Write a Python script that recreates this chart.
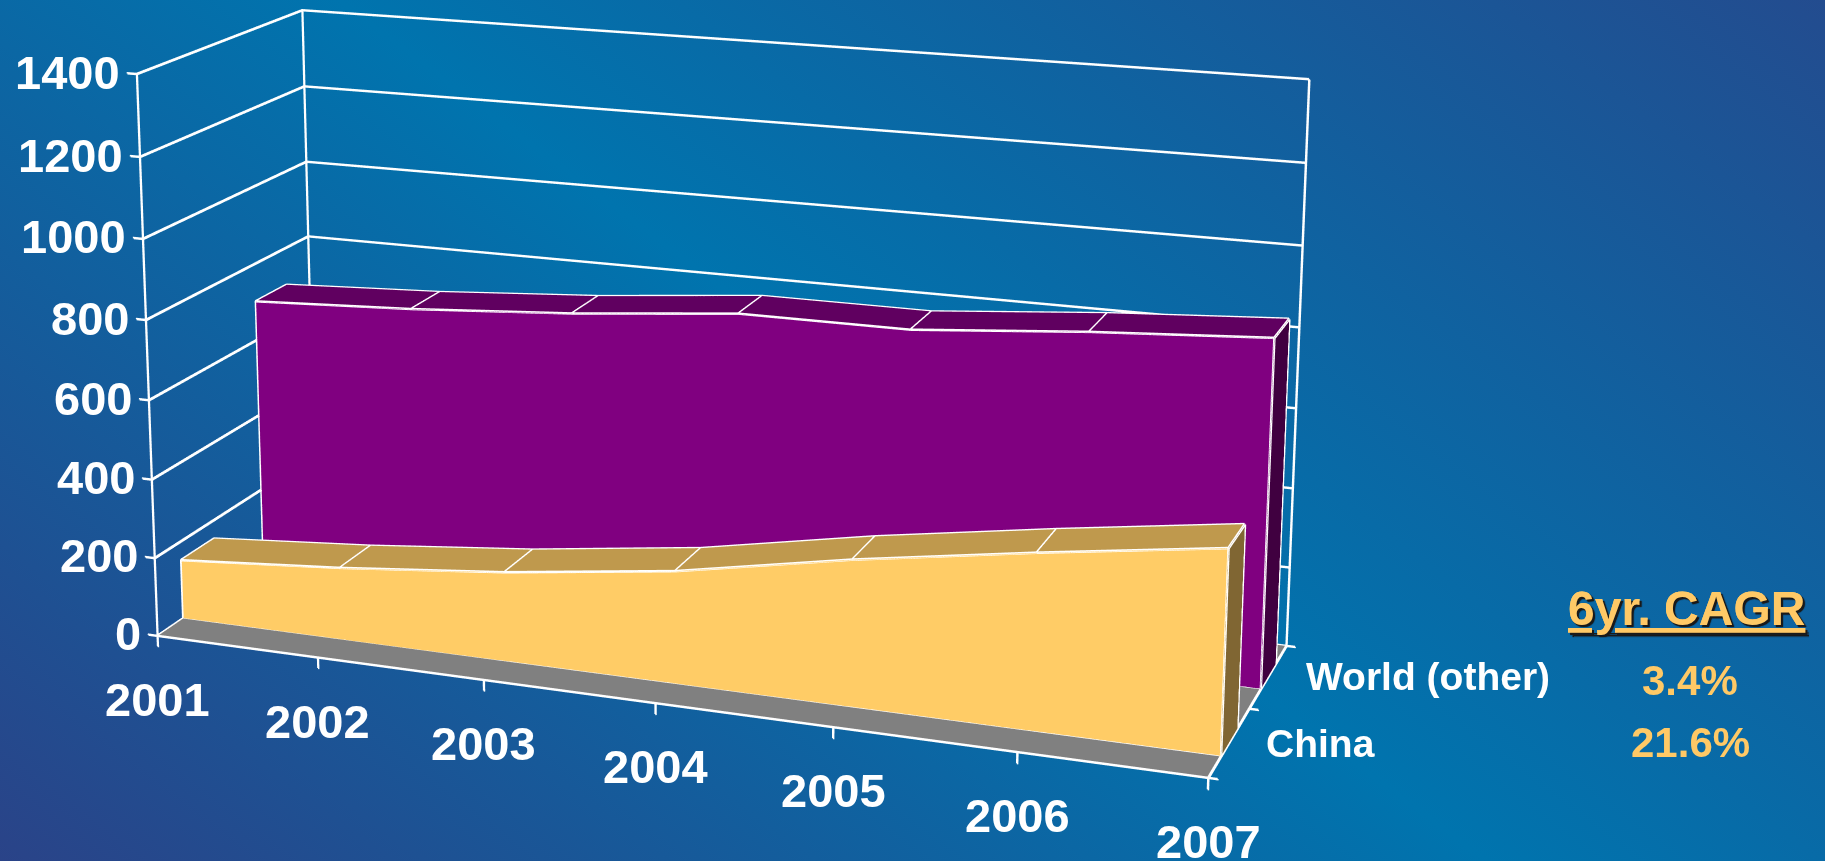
import numpy as np, plotly.graph_objects as go

years=[2001,2002,2003,2004,2005,2006,2007]
china=[152,184,225,280,360,428,490]
world=[702,722,751,791,792,828,855]
z_ticks=[0,200,400,600,800,1000,1200,1400]
series_names=['China','World (other)']
cagr_title='6yr. CAGR'
cagr_values=['21.6%','3.4%']

# camera fitted to the reference's perspective
ASPECT=[1,0.3388,0.5381]
EYE=np.array([1.0815,-3.0235,0.9205]);CENTER=np.array([-0.0674,0.0660,0.1259]);ROLL=-0.0014
fw=(CENTER-EYE)/np.linalg.norm(CENTER-EYE)
ri=np.cross(fw,[0,0,1.]);ri/=np.linalg.norm(ri)
up0=np.cross(ri,fw)
UP=-np.sin(ROLL)*ri+np.cos(ROLL)*up0

H=3012;T=1297;W=1825;SCENE_W=1352
XR=[-0.2,6.2];YR=[-0.05,2.05];ZR=[-60,1430]
old=[(0,6),(0,2),(0,1400)];new=[XR,YR,ZR]
s=[ASPECT[i]/(old[i][1]-old[i][0]) for i in range(3)]
delta=np.array([(sum(old[i])/2-sum(new[i])/2)*s[i] for i in range(3)])
aspn=[s[i]*(new[i][1]-new[i][0]) for i in range(3)]
eye=EYE+delta;cen=CENTER+delta

X=list(range(len(years)))
fig=go.Figure()
def mesh(vs,quads,color,name):
    i=[];j=[];k=[]
    for a,b,c,d in quads:
        i+=[a,a];j+=[b,c];k+=[c,d]
    fig.add_trace(go.Mesh3d(x=[v[0] for v in vs],y=[v[1] for v in vs],z=[v[2] for v in vs],i=i,j=j,k=k,color=color,flatshading=True,name=name,
      lighting=dict(ambient=1,diffuse=0,specular=0,fresnel=0,roughness=1),hoverinfo='skip'))
def band(vals,y0,y1,front,top,side,name):
    last=X[-1];n=len(X)-1
    fv=[]
    for a,z in zip(X,vals): fv+=[(a,y0,0),(a,y0,z)]
    mesh(fv,[(2*m,2*m+2,2*m+3,2*m+1) for m in range(n)],front,name)
    tv=[]
    for a,z in zip(X,vals): tv+=[(a,y0,z),(a,y1,z)]
    mesh(tv,[(2*m,2*m+2,2*m+3,2*m+1) for m in range(n)],top,name+' top')
    mesh([(last,y0,0),(last,y1,0),(last,y1,vals[-1]),(last,y0,vals[-1])],[(0,1,2,3)],side,name+' side')
mesh([(0,0,0),(6,0,0),(6,2,0),(0,2,0)],[(0,1,2,3)],'#808080','floor')
band(china,.3,.7,'#FFCC66','#BF994D','#806633',series_names[0])
band(world,1.3,1.7,'#800080','#600060','#400040',series_names[1])

lx=[];ly=[];lz=[]
def seg(*ps):
    for p in ps:
        lx.append(p[0]);ly.append(p[1]);lz.append(p[2])
    lx.append(None);ly.append(None);lz.append(None)
def edges(vals,y0,y1):
    seg(*[(a,y0,z) for a,z in zip(X,vals)])
    seg(*[(a,y1,z) for a,z in zip(X,vals)])
    seg((0,y0,0),(6,y0,0))
    for a,z in zip(X,vals): seg((a,y0,z),(a,y1,z))
    seg((0,y0,0),(0,y0,vals[0]));seg((6,y0,0),(6,y0,vals[-1]));seg((6,y1,0),(6,y1,vals[-1]));seg((6,y0,0),(6,y1,0))
edges(china,.3,.7);edges(world,1.3,1.7)
for z in z_ticks:
    seg((-0.06,0,z),(0,0,z),(0,2,z),(6,2,z))
seg((0,0,0),(0,0,1400));seg((0,2,0),(0,2,1400));seg((6,2,0),(6,2,1400))
seg((0,0,0),(6,0,0),(6,2,0))
for a in X: seg((a,0,-28),(a,0,0))
for y in [0,1,2]: seg((6,y,0),(6.05,y,0))
# WebGL lines are one pixel wide, so the white edges are stroked twice, one pixel apart
for ox,oz in [(-0.0025,1.2),(0.0025,-1.2)]:
    fig.add_trace(go.Scatter3d(x=[None if v is None else v+ox for v in lx],y=ly,z=[None if v is None else v+oz for v in lz],
        mode='lines',line=dict(color='white',width=3),hoverinfo='skip',connectgaps=False))

ft=dict(family='Liberation Sans',color='white',size=47)
sa=[]
for z in z_ticks:
    sa.append(dict(x=-0.06,y=0,z=z,text=f'<b>{z}</b>',showarrow=False,xanchor='right',yanchor='middle',xshift=-5,yshift=1,font=ft))
for a,yr in zip(X,years):
    sa.append(dict(x=a,y=0,z=0,text=f'<b>{yr}</b>',showarrow=False,xanchor='center',yanchor='top',yshift=-35,font=ft))
f2=dict(ft,size=39)
sa.append(dict(x=6,y=1.5,z=0,text=f'<b>{series_names[1]}</b>',showarrow=False,xanchor='left',yanchor='middle',xshift=36,font=f2))
sa.append(dict(x=6,y=.5,z=0,text=f'<b>{series_names[0]}</b>',showarrow=False,xanchor='left',yanchor='middle',xshift=35,yshift=-1,font=f2))

def py(v): return 1-(v+T)/H
def px(v): return v/W
gold='#FFC966'
common=dict(xref='paper',yref='paper',showarrow=False,xanchor='center',yanchor='middle')
ann=[dict(x=px(1686),y=py(608),text=f'<b>{cagr_title}</b>',font=dict(family='Liberation Sans',size=48,color=gold,lineposition='under',shadow='2px 2px 1px #1a1a1a'),**common),
 dict(x=px(1690),y=py(680),text=f'<b>{cagr_values[1]}</b>',font=dict(family='Liberation Sans',size=42,color=gold),**common),
 dict(x=px(1690),y=py(743),text=f'<b>{cagr_values[0]}</b>',font=dict(family='Liberation Sans',size=42,color=gold),**common)]
fig.update_layout(width=W,height=H,margin=dict(l=0,r=0,t=0,b=0),showlegend=False,paper_bgcolor='rgba(0,0,0,0)',plot_bgcolor='rgba(0,0,0,0)',annotations=ann,
 scene=dict(domain=dict(x=[0,SCENE_W/W],y=[0,1]),bgcolor='rgba(0,0,0,0)',annotations=sa,
  xaxis=dict(range=XR,visible=False),yaxis=dict(range=YR,visible=False),zaxis=dict(range=ZR,visible=False),
  aspectmode='manual',aspectratio=dict(x=aspn[0],y=aspn[1],z=aspn[2]),
  camera=dict(eye=dict(x=eye[0],y=eye[1],z=eye[2]),center=dict(x=cen[0],y=cen[1],z=cen[2]),up=dict(x=UP[0],y=UP[1],z=UP[2]))))
js=f"""document.body.style.margin='0';document.documentElement.style.overflow='hidden';document.body.style.overflow='hidden';
document.body.style.background='linear-gradient(36.87deg,#2A4388 0%,#0074AE 50%,#234C8F 100%)';document.body.style.height='861px';
var g=document.querySelector('.plotly-graph-div');g.style.position='absolute';g.style.left='0';g.style.top='-{T}px';"""
fig.write_html('out.html',post_script=js,config=dict(displayModeBar=False))
